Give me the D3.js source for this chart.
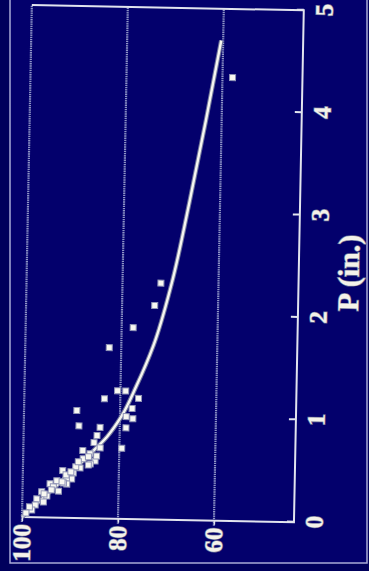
<!DOCTYPE html>
<html>
<head>
<meta charset="utf-8">
<script src="https://cdn.jsdelivr.net/npm/d3@7"></script>
<style>
html, body { margin: 0; padding: 0; background: #00005c; }
svg { display: block; }
</style>
</head>
<body>
<div id="chart"></div>
<script>
// observed points: P (in.) and value (%)
var obsP = [4.33, 2.31, 2.09, 1.87, 1.67, 1.25, 1.25, 1.17, 1.18, 1.08, 1.05, 1.00, 0.98, 0.90, 0.89, 0.89,
            0.81, 0.74, 0.69, 0.69, 0.66, 0.56, 0.53, 0.46, 0.52, 0.49, 0.44, 0.38, 0.39, 0.33, 0.34, 0.36,
            0.33, 0.30, 0.26, 0.25, 0.21, 0.15, 0.18, 0.12, 0.07, 0.61, 0.63, 0.27, 0.42, 0.50, 0.58, 0.10,
            0.04, 0.60, 0.45, 0.35, 0.23, 0.55];
var obsV = [57.9, 72.0, 73.2, 77.6, 82.5, 80.6, 78.9, 83.3, 76.2, 77.5, 89.0, 78.7, 77.3, 88.5, 84.1, 78.7,
            84.7, 85.3, 84.0, 79.5, 87.6, 85.0, 86.0, 91.7, 86.4, 88.1, 89.5, 89.8, 90.9, 90.8, 91.5, 92.9,
            94.3, 93.6, 92.5, 96.0, 94.9, 95.6, 97.0, 97.3, 98.0, 84.7, 86.1, 94.0, 91.0, 89.0, 87.5, 98.5,
            99.2, 86.4, 90.0, 91.8, 95.5, 88.5];

// fitted curve
var fitP = [0, 0.3, 0.6, 0.8, 1.0, 1.3, 1.7, 2.3, 3.1, 3.9, 4.69];
var fitV = [100, 93.2, 86.7, 82.6, 79.7, 76.7, 73.3, 69.8, 66.4, 63.3, 60.4];

var pTicks = [0, 1, 2, 3, 4, 5];
var vTicks = [100, 80, 60];

var W = 369, H = 571;
var plotW = 512,   // along P (shown vertically)
    plotH = 272;   // along value (shown horizontally)

var svg = d3.select("#chart").append("svg")
    .attr("width", W)
    .attr("height", H);

// scanned page border
svg.append("rect")
    .attr("x", 10).attr("y", -3)
    .attr("width", 357).attr("height", 566)
    .attr("fill", "#03006c")
    .attr("stroke", "#a9abd6")
    .attr("stroke-width", 1.5);

var x = d3.scaleLinear().domain([0, 5]).range([0, plotW]);
var y = d3.scaleLinear().domain([100, 100 - plotH / 4.8]).range([0, plotH]);

// the whole figure is turned on its side (and a little skewed by the scan)
var g = svg.append("g")
    .attr("transform", "translate(22,517) rotate(-88.9)");

// gridlines (speckled look)
g.selectAll(".grid")
    .data(vTicks)
    .enter().append("line")
    .attr("x1", -5)
    .attr("x2", plotW)
    .attr("y1", function (d) { return y(d); })
    .attr("y2", function (d) { return y(d); })
    .attr("stroke", "#8f95c6")
    .attr("stroke-width", 2.2)
    .attr("stroke-dasharray", "1.4 0.8");

// solid frame: left, bottom, right of the original plot
g.append("path")
    .attr("d", "M" + x(5) + "," + y(100) + "L" + x(5) + "," + plotH + "L" + x(0) + "," + plotH + "L" + x(0) + "," + y(100))
    .attr("fill", "none")
    .attr("stroke", "#e2e4ee")
    .attr("stroke-width", 2);

// P axis
var xAxis = g.append("g")
    .attr("transform", "translate(0," + plotH + ")")
    .call(d3.axisBottom(x).tickValues(pTicks).tickFormat(d3.format("d"))
        .tickSizeInner(-7).tickSizeOuter(0).tickPadding(11));
xAxis.select(".domain").remove();
xAxis.selectAll("line").attr("stroke", "#e2e4ee").attr("stroke-width", 2);
xAxis.selectAll("text")
    .attr("fill", "#f4f2ea")
    .attr("stroke", "#6f7396")
    .attr("stroke-width", 1.5)
    .attr("paint-order", "stroke")
    .style("font-family", "'Liberation Serif', 'DejaVu Serif', serif")
    .style("font-weight", "bold")
    .style("font-size", "25px");

// value axis
var yAxis = g.append("g")
    .call(d3.axisLeft(y).tickValues(vTicks).tickFormat(d3.format("d"))
        .tickSizeInner(4).tickSizeOuter(0).tickPadding(3));
yAxis.select(".domain").remove();
yAxis.selectAll("line").attr("stroke", "#e2e4ee").attr("stroke-width", 1.5);
yAxis.selectAll("text")
    .attr("fill", "#f4f2ea")
    .attr("stroke", "#6f7396")
    .attr("stroke-width", 1.5)
    .attr("paint-order", "stroke")
    .style("font-family", "'Liberation Serif', 'DejaVu Serif', serif")
    .style("font-weight", "bold")
    .style("font-size", "25px");

// axis title
g.append("text")
    .attr("x", x(2.07))
    .attr("y", plotH + 60)
    .attr("fill", "#f4f2ea")
    .attr("stroke", "#6f7396")
    .attr("stroke-width", 1.5)
    .attr("paint-order", "stroke")
    .style("font-family", "'Liberation Serif', 'DejaVu Serif', serif")
    .style("font-weight", "bold")
    .style("font-size", "30px")
    .text("P (in.)");

// fitted curve
var fit = fitP.map(function (p, i) { return { p: p, v: fitV[i] }; });
var line = d3.line()
    .x(function (d) { return x(d.p); })
    .y(function (d) { return y(d.v); })
    .curve(d3.curveMonotoneX);

g.append("path")
    .datum(fit)
    .attr("d", line)
    .attr("fill", "none")
    .attr("stroke", "#70759a")
    .attr("stroke-width", 4.5);
g.append("path")
    .datum(fit)
    .attr("d", line)
    .attr("fill", "none")
    .attr("stroke", "#f6f6f0")
    .attr("stroke-width", 2.4);

// observed points
var obs = obsP.map(function (p, i) { return { p: p, v: obsV[i] }; });
g.selectAll(".pt")
    .data(obs)
    .enter().append("rect")
    .attr("class", "pt")
    .attr("x", function (d) { return x(d.p) - 3; })
    .attr("y", function (d) { return y(d.v) - 3; })
    .attr("width", 6)
    .attr("height", 6)
    .attr("fill", "#f8f8f2")
    .attr("stroke", "#9094b6")
    .attr("stroke-width", 1);
</script>
</body>
</html>
